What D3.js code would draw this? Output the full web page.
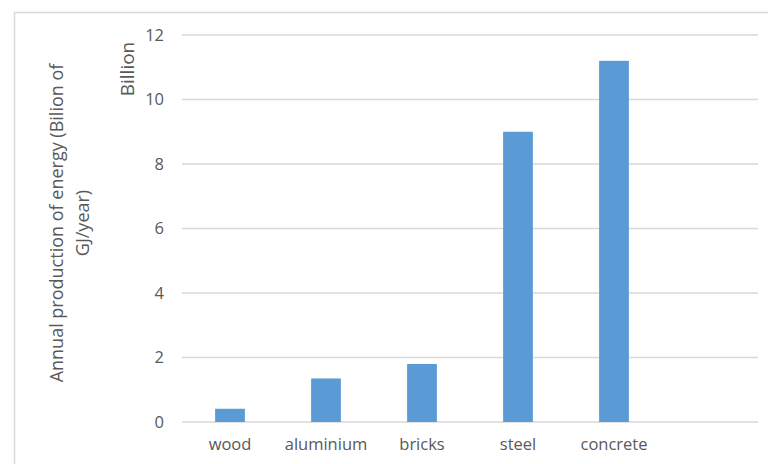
<!DOCTYPE html>
<html>
<head>
<meta charset="utf-8">
<script src="https://cdn.jsdelivr.net/npm/d3@7"></script>
<style>
  html, body { margin: 0; padding: 0; background: #fff; }
  svg { display: block; font-family: "Open Sans", "Noto Sans", sans-serif; }
</style>
</head>
<body>
<svg id="chart" width="768" height="464"></svg>
<script>
// Material categories (the last slot is left empty on the axis)
const categories = ["wood", "aluminium", "bricks", "steel", "concrete", ""];
// Annual production of energy, billion GJ/year
const values = [0.41, 1.35, 1.8, 9.0, 11.2];
const yTicks = [0, 2, 4, 6, 8, 10, 12];

const svg = d3.select("#chart");
const margin = { left: 182, top: 35 };
const plotRight = 758;
const plotBottom = 422;

// chart frame
svg.append("rect")
  .attr("x", 14.5).attr("y", 12.5)
  .attr("width", 780).attr("height", 470)
  .attr("fill", "none").attr("stroke", "#d9d9d9").attr("stroke-width", 1.5);

const x = d3.scaleBand()
  .domain(categories.map((c, i) => i))
  .range([margin.left, plotRight])
  .paddingInner(0.69).paddingOuter(0.345);

const y = d3.scaleLinear().domain([0, 12]).range([plotBottom, margin.top]);

// gridlines
svg.append("g")
  .selectAll("line").data(yTicks).join("line")
  .attr("x1", margin.left).attr("x2", plotRight)
  .attr("y1", d => y(d)).attr("y2", d => y(d))
  .attr("stroke", "#d9d9d9").attr("stroke-width", 1.5);

// y tick labels
const yAxis = svg.append("g")
  .attr("transform", `translate(${margin.left - 18},0)`)
  .call(d3.axisLeft(y).tickValues(yTicks).tickSize(0).tickPadding(0));
yAxis.select(".domain").remove();
yAxis.selectAll("text")
  .attr("fill", "#595959").style("font-size", "16.5px")
  .style("font-family", "'Open Sans', sans-serif");

// bars
svg.append("g")
  .selectAll("rect").data(values).join("rect")
  .attr("x", (d, i) => x(i))
  .attr("width", x.bandwidth())
  .attr("y", d => y(d))
  .attr("height", d => plotBottom - y(d))
  .attr("fill", "#5b9bd5");

// x category labels
const xAxis = svg.append("g")
  .attr("transform", `translate(0,${plotBottom})`)
  .call(d3.axisBottom(x).tickFormat(i => categories[i]).tickSize(0).tickPadding(16));
xAxis.select(".domain").remove();
xAxis.selectAll("text")
  .attr("fill", "#595959").style("font-size", "16.5px")
  .style("font-family", "'Open Sans', sans-serif");

// display units label
svg.append("text")
  .attr("transform", "translate(134,69) rotate(-90)")
  .attr("text-anchor", "middle")
  .attr("fill", "#595959").style("font-size", "19px")
  .text("Billion");

// axis title
const title = svg.append("text")
  .attr("transform", "translate(63,223) rotate(-90)")
  .attr("text-anchor", "middle")
  .attr("fill", "#595959").style("font-size", "18px");
title.append("tspan").attr("x", 0).attr("dy", 0).text("Annual production of energy (Bilion of");
title.append("tspan").attr("x", 0).attr("dy", 26).text("GJ/year)");
</script>
</body>
</html>
